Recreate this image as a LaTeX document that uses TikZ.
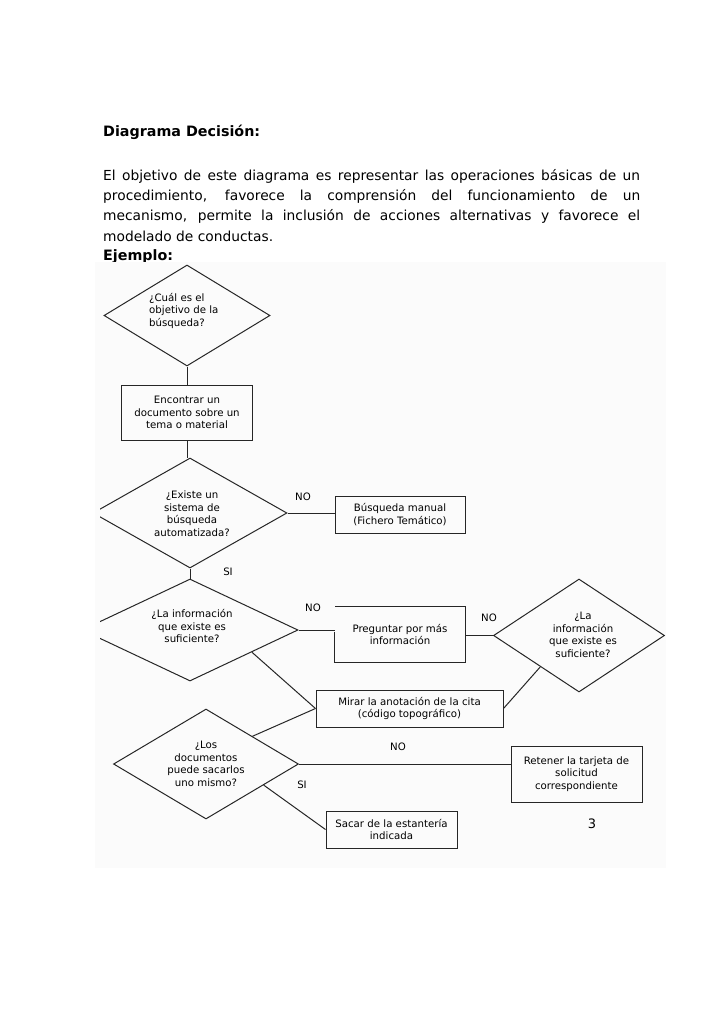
\documentclass[tikz,border=0pt]{standalone}
\usepackage{fontspec}
\setmainfont{DejaVu Sans}
\usetikzlibrary{shapes.geometric,calc}
\newcommand{\diafont}{\fontsize{10.2}{12.5}\selectfont}
\newcommand{\bodyfont}{\fontsize{13.8}{20.3}\selectfont}
\begin{document}
\begin{tikzpicture}[x=1pt,y=-1pt,
  box/.style={draw=black!85, line width=1pt, inner sep=0pt, align=center, font=\diafont},
  dmd/.style={draw=black!85, diamond, inner sep=0pt, line width=1pt},
  dtext/.style={inner sep=0pt, align=center, font=\diafont},
  lbl/.style={inner sep=0pt, font=\diafont},
  conn/.style={draw=black!85, line width=1pt},
  head/.style={inner sep=0pt, anchor=west, font=\fontsize{14.3}{16}\selectfont\bfseries}]
\useasboundingbox (0,0) rectangle (728,1031);
\fill[white] (0,0) rectangle (728,1031);

% texts of the page
\node[head] (title) at (103,132) {Diagrama Decisión:};
\node[inner sep=0pt, anchor=north west, text width=537pt, align=justify, font=\bodyfont] (para) at (103,169)
 {El objetivo de este diagrama es representar las operaciones básicas de un\linebreak
  procedimiento, favorece la comprensión del funcionamiento de un\linebreak
  mecanismo, permite la inclusión de acciones alternativas y favorece el\linebreak
  modelado de conductas.};
\node[head] (ej) at (103,257) {Ejemplo:};

% diagram area
\fill[black!1.5] (95,262) rectangle (666,868);
\begin{scope}
\clip (100,262) rectangle (666,868);

\node[dmd, minimum width=166pt, minimum height=101pt] (d1) at (187,315.5) {};
\node[dmd, minimum width=194pt, minimum height=110pt] (d2) at (190,513) {};
\node[dmd, minimum width=216pt, minimum height=102pt] (d3) at (190,630) {};
\node[dmd, minimum width=171pt, minimum height=113pt] (d4) at (579,635.5) {};
\node[dmd, minimum width=185pt, minimum height=110pt] (d5) at (206,764) {};

\node[dtext, align=left, anchor=west] (t1) at (149,310.5) {¿Cuál es el\\objetivo de la\\búsqueda?};
\node[dtext] (t2) at (192,513.5) {¿Existe un\\sistema de\\búsqueda\\automatizada?};
\node[dtext] (t3) at (192,626) {¿La información\\que existe es\\suficiente?};
\node[dtext] (t4) at (583,635) {¿La\\información\\que existe es\\suficiente?};
\node[dtext] (t5) at (206,764) {¿Los\\documentos\\puede sacarlos\\uno mismo?};

\node[box, minimum width=131pt, minimum height=55pt] (enc) at (187,412.5) {Encontrar un\\documento sobre un\\tema o material};
\node[box, minimum width=130pt, minimum height=37pt] (bus) at (400,514.5) {Búsqueda manual\\(Fichero Temático)};
\node[box, draw=none, minimum width=130pt, minimum height=55pt] (preg) at (400,634.5) {Preguntar por más\\información};
\draw[conn] ([yshift=-25pt]preg.north west) -- (preg.south west) -- (preg.south east) -- (preg.north east) -- (preg.north west);
\node[box, minimum width=187pt, minimum height=37pt] (mir) at (409.5,708.5) {Mirar la anotación de la cita\\(código topográfico)};
\node[box, minimum width=131pt, minimum height=56pt] (ret) at (576.5,774) {Retener la tarjeta de\\solicitud\\correspondiente};
\node[box, minimum width=131pt, minimum height=37pt] (sac) at (391.5,829.5) {Sacar de la estantería\\indicada};

\node[lbl] (no1) at (303,497) {NO};
\node[lbl] (si1) at (228,572) {SI};
\node[lbl] (no2) at (313,608) {NO};
\node[lbl] (no3) at (489,618) {NO};
\node[lbl] (no4) at (398,747) {NO};
\node[lbl] (si2) at (302,785) {SI};
\node[inner sep=0pt, font=\fontsize{13}{15}\selectfont] (pg) at (592,824) {3};

\draw[conn] (d1.south) -- (enc.north);
\draw[conn] (enc.south) -- (enc.south |- d2.north);
\draw[conn] (d2.east) -- (d2.east -| bus.west);
\draw[conn] (d2.south) -- (d3.north);
\draw[conn] (d3.east) -- (d3.east -| preg.west);
\draw[conn] (preg.east |- d4.west) -- (d4.west);
\draw[conn] ($(d3.east)!0.43!(d3.south)$) -- (mir.west);
\draw[conn] (mir.west) -- (d5.north east);
\draw[conn] ($(d4.west)!0.55!(d4.south)$) -- (mir.east);
\draw[conn] (d5.east) -- (d5.east -| ret.west);
\draw[conn] ($(d5.east)!0.38!(d5.south)$) -- (sac.west);
\end{scope}
\end{tikzpicture}
\end{document}
